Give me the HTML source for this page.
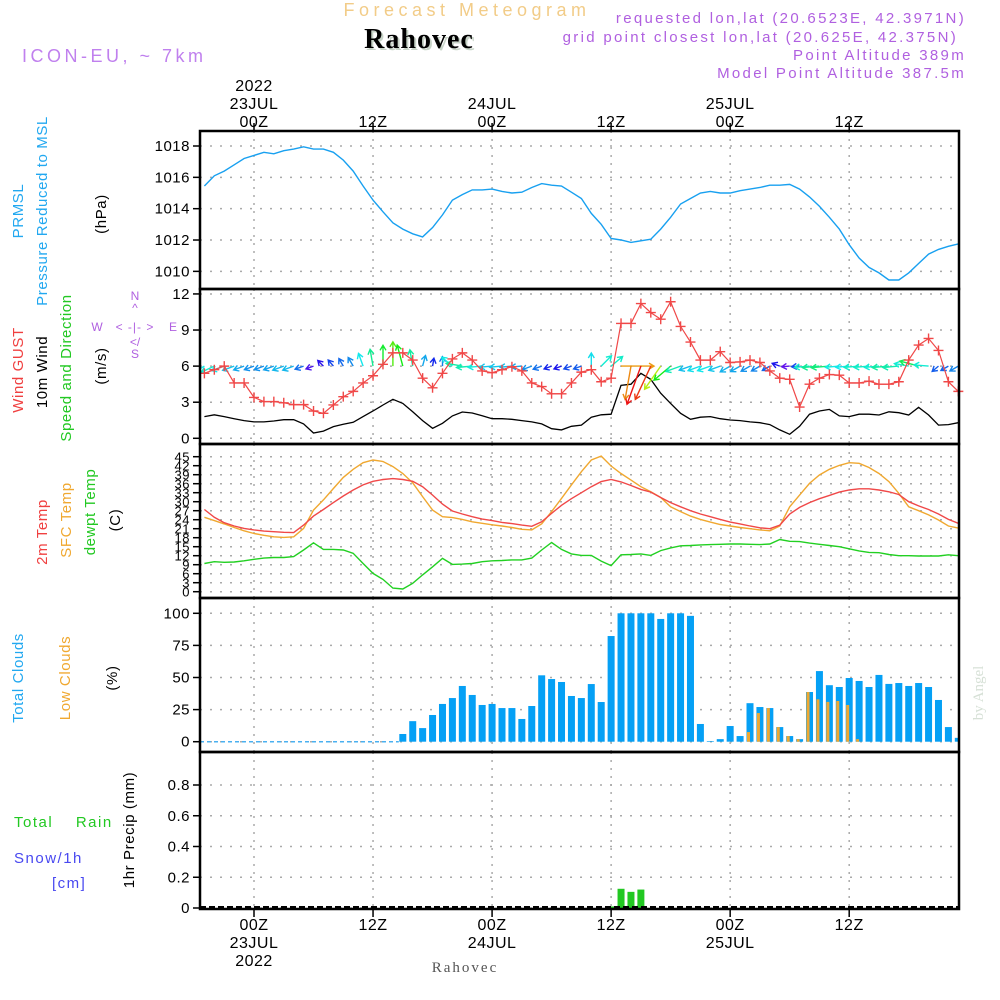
<!DOCTYPE html>
<html><head><meta charset="utf-8"><title>Rahovec meteogram</title>
<style>
html,body{margin:0;padding:0;background:#fff;}
svg{display:block;font-family:"Liberation Sans",sans-serif;}
</style></head>
<body>
<svg id="chart" width="1000" height="1000" viewBox="0 0 1000 1000" xmlns="http://www.w3.org/2000/svg">
<rect x="0" y="0" width="1000" height="1000" fill="#fff"/>
<text x="467" y="16" text-anchor="middle" font-size="18" fill="#f2cc88" letter-spacing="4.5">Forecast Meteogram</text>
<text x="421" y="50" text-anchor="middle" font-size="28" font-weight="bold" font-family="Liberation Serif,serif" fill="#c8d4c8" letter-spacing="1">Rahovec</text>
<text x="419" y="48" text-anchor="middle" font-size="28" font-weight="bold" font-family="Liberation Serif,serif" fill="#000" letter-spacing="1">Rahovec</text>
<g font-size="15" fill="#b060e0" text-anchor="end" letter-spacing="2.3">
<text x="966" y="23">requested lon,lat (20.6523E, 42.3971N)</text>
<text x="958" y="42">grid point closest lon,lat (20.625E, 42.375N)</text>
<text x="966" y="60">Point Altitude 389m</text>
<text x="966" y="78">Model Point Altitude 387.5m</text>
</g>
<text x="22" y="62" font-size="18" fill="#c080ee" letter-spacing="3.5">ICON-EU, ~ 7km</text>

<g font-size="15" letter-spacing="0.6">
<text transform="translate(23,211) rotate(-90)" text-anchor="middle" fill="#22a8f0">PRMSL</text>
<text transform="translate(47,211) rotate(-90)" text-anchor="middle" fill="#22a8f0">Pressure Reduced to MSL</text>
<text transform="translate(106,214) rotate(-90)" text-anchor="middle" fill="#000">(hPa)</text>
<text transform="translate(23,370) rotate(-90)" text-anchor="middle" fill="#f04040">Wind GUST</text>
<text transform="translate(47,372) rotate(-90)" text-anchor="middle" fill="#000">10m Wind</text>
<text transform="translate(71,368) rotate(-90)" text-anchor="middle" fill="#22c822">Speed and Direction</text>
<text transform="translate(106,366) rotate(-90)" text-anchor="middle" fill="#000">(m/s)</text>
<text transform="translate(47,532) rotate(-90)" text-anchor="middle" fill="#f04040">2m Temp</text>
<text transform="translate(71,520) rotate(-90)" text-anchor="middle" fill="#f0a830">SFC Temp</text>
<text transform="translate(95,512) rotate(-90)" text-anchor="middle" fill="#22c822">dewpt Temp</text>
<text transform="translate(120,520) rotate(-90)" text-anchor="middle" fill="#000">(C)</text>
<text transform="translate(23,678) rotate(-90)" text-anchor="middle" fill="#22a8f0">Total Clouds</text>
<text transform="translate(70,678) rotate(-90)" text-anchor="middle" fill="#f0a830">Low Clouds</text>
<text transform="translate(117,678) rotate(-90)" text-anchor="middle" fill="#000">(%)</text>
<text x="14" y="827" fill="#22c822" style="white-space:pre" letter-spacing="1.5">Total    Rain</text>
<text x="14" y="863" fill="#4848f0" letter-spacing="1.5">Snow/1h</text>
<text x="52" y="888" fill="#4848f0" letter-spacing="1.5">[cm]</text>
<text transform="translate(134,830) rotate(-90)" text-anchor="middle" fill="#000">1hr Precip (mm)</text>
</g>
<g font-size="12" fill="#b060e0">
<text x="135" y="300" text-anchor="middle">N</text>
<text x="135" y="312" text-anchor="middle">^</text>
<text x="97" y="331" text-anchor="middle">W</text>
<text x="135" y="331" text-anchor="middle" style="white-space:pre" letter-spacing="1">&lt; -|- &gt;</text>
<text x="173" y="331" text-anchor="middle">E</text>
<text x="135" y="346" text-anchor="middle">&lt;/</text>
<text x="135" y="358" text-anchor="middle">S</text>
</g>
<text transform="translate(983,693) rotate(-90)" text-anchor="middle" font-size="15" font-family="Liberation Serif,serif" fill="#d6e0d6">by Angel</text>
<text x="465" y="972" text-anchor="middle" font-size="15" font-family="Liberation Serif,serif" fill="#555" letter-spacing="2">Rahovec</text>
<g id="plot"></g>
</svg>
<script>
// hours relative to 00Z 23JUL
const hours = [];
for (let h = -5; h <= 71; h++) hours.push(h);
const pressure = [1015.45,1016.1,1016.4,1016.8,1017.2,1017.4,1017.6,1017.5,1017.7,1017.8,1017.95,1017.8,1017.8,1017.6,1017.1,1016.4,1015.45,1014.55,1013.8,1013.1,1012.7,1012.4,1012.2,1012.8,1013.6,1014.55,1014.9,1015.2,1015.2,1015.25,1015.1,1015.0,1015.05,1015.35,1015.6,1015.5,1015.45,1015.05,1014.65,1013.7,
1013.0,1012.1,1012.0,1011.85,1011.95,1012.05,1012.7,1013.45,1014.3,1014.65,1015.0,1015.1,1015.0,1015.0,1015.15,1015.25,1015.35,1015.5,1015.5,1015.55,1015.25,1014.75,1014.15,1013.45,1012.7,1011.7,1010.85,1010.25,1009.9,1009.45,1009.45,1009.9,1010.5,1011.1,1011.4,1011.6,1011.75];
const gust = [5.4,5.7,6.0,4.6,4.6,3.4,3.05,3.05,2.95,2.8,2.8,2.27,2.08,2.77,3.46,3.9,4.6,5.2,6.15,7.1,7.1,6.5,5.0,4.2,5.4,6.6,7.1,6.5,5.6,5.45,5.7,5.95,5.6,4.6,4.3,3.7,3.7,4.6,5.5,5.7,
4.7,5.0,9.55,9.55,11.2,10.45,9.9,11.35,9.3,8.0,6.5,6.5,7.2,6.3,6.35,6.5,6.3,5.6,5.0,4.9,2.6,4.5,5.0,5.3,5.25,4.6,4.6,4.75,4.5,4.5,4.7,6.5,7.75,8.3,7.3,4.7,3.9];
const windSpeed = [1.8,1.95,1.8,1.63,1.47,1.36,1.36,1.44,1.55,1.55,1.2,0.44,0.6,0.97,1.16,1.33,1.8,2.27,2.77,3.24,2.9,2.2,1.47,0.83,1.25,1.86,2.19,2.1,1.88,1.63,1.63,1.58,1.47,1.36,1.2,0.8,0.7,1.0,1.1,1.75,
1.95,2.0,4.4,4.5,5.4,4.9,3.75,2.9,2.08,1.58,1.75,1.8,1.63,1.52,1.47,1.36,1.3,1.14,0.7,0.33,1.0,2.0,2.27,2.4,1.86,1.8,2.0,2.0,1.94,2.2,2.13,1.94,2.58,1.94,1.1,1.14,1.3];
const windDir = [60,65,70,70,70,70,70,70,70,70,70,70,
135,140,150,150,160,170,180,180,165,170,195,190,180,130,100,
85,85,85,85,85,85,70,70,70,70,70,70,180,
225,230,270,10,20,25,35,50,70,70,70,70,70,60,60,60,60,60,110,
85,85,85,85,85,85,85,85,85,85,85,85,100,105,95,50,60,60];
const temp2m = [27.4,24.8,23,21.9,21.1,20.6,20.2,20,19.8,19.7,22.2,25.2,27.4,29.7,31.9,33.9,35.6,36.8,37.4,37.7,37.4,36.8,35,32.2,29.2,26.9,25.9,25,24.2,23.7,23.1,22.7,22.2,21.8,23.3,26.1,28.8,31,33,35,36.7,37.4,36.6,35.4,34.1,33.2,31.4,29.7,28.3,27,25.9,25,24.1,23.2,22.6,21.9,21.3,21,22.2,25.9,28.1,29.7,31,32.1,33.2,33.9,34.3,34.3,33.9,33.3,32.4,30,28.6,27.4,25.9,24.1,22.8];
const tempSfc = [24.8,23.7,22.6,21.4,20.3,19.4,18.8,18.3,18.1,18.3,21.1,27.2,30.6,34.4,38.1,40.8,43,43.9,43.4,41.7,39.4,36.3,31.7,27.2,25,24.7,24.1,23.3,22.8,22.3,21.9,21.4,20.8,20.6,22.6,26.7,31.1,35.6,40,43.9,45.2,41.9,39.4,37.2,35,33.3,31.4,28.3,26.7,25.2,24.1,23.2,22.4,21.9,21.4,21,20.6,20.3,21.9,28.3,32.2,36.1,38.9,40.8,42.1,43,42.8,41.4,39.4,36.7,32.8,28.3,27,25.6,23.9,21.9,21.2];
const dewpt = [9.4,10,9.8,9.9,10.3,10.8,11.2,11.4,11.4,11.7,13.9,16.3,14.1,14.1,13.9,12.8,9.4,6.1,4.1,1.2,0.9,2.8,5.6,8.3,11.1,9.1,9.2,9.4,10,10.3,10.4,10.6,10.6,11.2,13.9,16.4,14.1,12.6,12.1,12.1,10.2,8.7,12.3,12.4,12.6,12.1,13.7,14.6,15.3,15.4,15.6,15.7,15.8,15.9,15.9,15.8,15.7,15.9,17.4,16.8,16.7,16.2,15.8,15.4,15,14.3,13.6,13.1,13,12.4,12,12,11.9,11.9,11.9,12.3,12];
const totalClouds = [0,0,0,0,0,0,0,0,0,0,0,0,0,0,0,0,0,0,0,0,
6,16,10.6,20.8,29.4,34,43.4,36.4,28.6,29.4,26.2,26.2,17.7,27.8,51.7,48.8,46.5,35.6,34,44.9,30.9,82.3,100,100,100,100,95.6,100,100,98,13.8,0.5,2,12.2,4.4,30,27,26.2,11.4,4.4,2,38.7,55,44,42.6,49.6,47.3,42.6,52,45,45.7,43.4,45.7,42.6,32.5,11.4,3];
const lowClouds = [0,0,0,0,0,0,0,0,0,0,0,0,0,0,0,0,0,0,0,0,0,0,0,0,0,0,0,0,0,0,0,0,0,0,0,0,0,0,0,0,0,0,0,0,0,0,0,0,0,0,0,0,0,0,0,
7.5,22.3,26.2,11.4,4.4,2,38.7,33,31,31.7,28.6,2,0,0,0,0,0,0,0,0,0,0];
const precip = [0,0,0,0,0,0,0,0,0,0,0,0,0,0,0,0,0,0,0,0,0,0,0,0,0,0,0,0,0,0,0,0,0,0,0,0,0,0,0,0,0,
0.01,0.125,0.105,0.12,0,0,0,0,0,0,0,0,0,0,0,0,0,0,0,0,0,0,0,0,0,0,0,0,0,0,0,0,0,0,0,0,0];
const pressureTicks = [1010,1012,1014,1016,1018];
const windTicks = [0,3,6,9,12];
const tempTicks = [0,3,6,9,12,15,18,21,24,27,30,33,36,39,42,45];
const cloudTicks = [0,25,50,75,100];
const precipTicks = [0,0.2,0.4,0.6,0.8];
const timeTicks = [0,12,24,36,48,60];
const timeLabels = ["00Z","12Z","00Z","12Z","00Z","12Z"];
const dateLabels = ["23JUL","","24JUL","","25JUL",""];

const NS = "http://www.w3.org/2000/svg";
const plot = document.getElementById("plot");
const L = 200, R = 959;
const X = t => 254 + 9.92 * t;
const panels = {
  pres: {top:131, bot:289, y: v => 146 + (1018 - v) * 15.67},
  wind: {top:289, bot:444, y: v => 438.3 - v * 12.03},
  temp: {top:444, bot:598, y: v => 591.7 - v * 3.0},
  cloud:{top:598, bot:752, y: v => 741.7 - v * 1.284},
  prec: {top:752, bot:909, y: v => 908 - v * 153.75}
};
function el(tag, attrs, parent) {
  const e = document.createElementNS(NS, tag);
  for (const k in attrs) e.setAttribute(k, attrs[k]);
  (parent || plot).appendChild(e);
  return e;
}
const clip = el("clipPath", {id:"plotclip"});
el("rect", {x:L, y:131, width:R-L, height:778}, clip);

function gridAndAxis(p, ticks, name, fmt, fs) {
  const g = el("g", {});
  
  
  ticks.forEach(v => {
    const y = p.y(v);
    const gl = el("line", {x1:L, x2:R, y1:y, y2:y, stroke:"#aaa", "stroke-width":1.5, "stroke-dasharray":"2 8"}, g);
    
    
    const tk = el("line", {x1:L-7, x2:L, y1:y, y2:y, stroke:"#000", "stroke-width":1.5}, g);
    
    
    const tx = el("text", {x:L-10, y:y+5, "text-anchor":"end", "font-size":fs || 15, fill:"#000", "letter-spacing":0.5}, g);
    
    
    tx.textContent = fmt ? fmt(v) : String(v);
  });
  timeTicks.forEach(t => {
    const vl = el("line", {x1:X(t), x2:X(t), y1:p.top, y2:p.bot, stroke:"#aaa", "stroke-width":1.5, "stroke-dasharray":"2 6"}, g);
    
    
  });
}
gridAndAxis(panels.pres, pressureTicks, "pressure");
gridAndAxis(panels.wind, windTicks, "wind");
gridAndAxis(panels.temp, tempTicks, "temp", null, 13);
gridAndAxis(panels.cloud, cloudTicks, "cloud");
gridAndAxis(panels.prec, precipTicks, "precip", v => v === 0 ? "0" : v.toFixed(1));

function line(p, vals, color, name, w) {
  const pts = vals.map((v, i) => X(hours[i]).toFixed(1) + "," + p.y(v).toFixed(1)).join(" ");
  const pl = el("polyline", {points:pts, fill:"none", stroke:color, "stroke-width":w || 1.4, "clip-path":"url(#plotclip)"});
  
  
}
line(panels.pres, pressure, "#18a0f0", "pressure-line");

// clouds
const cg = el("g", {"clip-path":"url(#plotclip)"});


const zl = el("line", {x1:L, x2:X(15)-4, y1:panels.cloud.y(0), y2:panels.cloud.y(0), stroke:"#4ab0f0", "stroke-width":1.5, "stroke-dasharray":"4 3"}, cg);


totalClouds.forEach((v, i) => {
  if (v <= 0) return;
  const y = panels.cloud.y(v);
  const r = el("rect", {x:X(hours[i]) - 3.5, y:y, width:7, height:panels.cloud.y(0) - y, fill:"#05a0f5"}, cg);
  
  
});
lowClouds.forEach((v, i) => {
  if (v <= 0) return;
  const y = panels.cloud.y(v);
  const r = el("rect", {x:X(hours[i]) - 3, y:y, width:3, height:panels.cloud.y(0) - y, fill:"#f0a830"}, cg);
  
  
});
// precip
const pg = el("g", {});


precip.forEach((v, i) => {
  if (v <= 0) return;
  const y = panels.prec.y(v);
  const r = el("rect", {x:X(hours[i]) - 3.5, y:y, width:7, height:panels.prec.y(0) - y, fill:"#22c822"}, pg);
  
  
});
const pz = el("line", {x1:L, x2:R, y1:907, y2:907, stroke:"#000", "stroke-width":2, "stroke-dasharray":"6 3"});



// temps
line(panels.temp, tempSfc, "#f0a830", "sfc-temp-line");
line(panels.temp, temp2m, "#f04848", "t2m-line");
line(panels.temp, dewpt, "#22d022", "dewpt-line");

// wind
line(panels.wind, windSpeed, "#000", "wind-speed-line", 1.3);
const ag = el("g", {"clip-path":"url(#plotclip)"});


windDir.forEach((d, i) => {
  const s = windSpeed[i];
  const len = Math.max(8, s * 7.5);
  const to = (d + 180) * Math.PI / 180;
  const x0 = X(hours[i]), y0 = panels.wind.y(6);
  const dx = Math.sin(to) * len, dy = -Math.cos(to) * len;
  const x1 = x0 + dx, y1 = y0 + dy;
  const hue = Math.max(0, 280 - s * 55);
  const col = "hsl(" + hue + ",85%,50%)";
  const ux = dx / len, uy = dy / len;
  const h = 5;
  const p = [x1 - ux*h - uy*h*0.6, y1 - uy*h + ux*h*0.6, x1, y1, x1 - ux*h + uy*h*0.6, y1 - uy*h - ux*h*0.6];
  const a = el("path", {d:"M" + x0.toFixed(1) + " " + y0.toFixed(1) + "L" + x1.toFixed(1) + " " + y1.toFixed(1) + "M" + p[0].toFixed(1) + " " + p[1].toFixed(1) + "L" + p[2].toFixed(1) + " " + p[3].toFixed(1) + "L" + p[4].toFixed(1) + " " + p[5].toFixed(1), fill:"none", stroke:col, "stroke-width":1.4}, ag);
  
  
});
line(panels.wind, gust, "#f04848", "gust-line", 1.2);
const gm = el("g", {});


gust.forEach((v, i) => {
  const x = X(hours[i]), y = panels.wind.y(v);
  const m = el("path", {d:"M" + (x-5) + " " + y + "h10M" + x + " " + (y-5) + "v10", stroke:"#f04848", "stroke-width":1.4}, gm);
  
  
});

// panel borders
Object.keys(panels).forEach(k => {
  const p = panels[k];
  const b = el("rect", {x:L, y:p.top, width:R-L, height:p.bot-p.top, fill:"none", stroke:"#000", "stroke-width":2.5});
  
  
});
// time axis labels
timeTicks.forEach((t, i) => {
  const x = X(t);
  const tt = el("line", {x1:x, x2:x, y1:123, y2:131, stroke:"#000", "stroke-width":1.5});
  
  
  const bt = el("line", {x1:x, x2:x, y1:909, y2:917, stroke:"#000", "stroke-width":1.5});
  
  
  const a = el("text", {x:x, y:127, "text-anchor":"middle", "font-size":16, fill:"#000", "letter-spacing":0.5});
  
  
  a.textContent = timeLabels[i];
  const b = el("text", {x:x, y:930, "text-anchor":"middle", "font-size":16, fill:"#000", "letter-spacing":0.5});
  
  
  b.textContent = timeLabels[i];
  if (dateLabels[i]) {
    const c = el("text", {x:x, y:109, "text-anchor":"middle", "font-size":16, fill:"#000", "letter-spacing":0.5});
    
    
    c.textContent = dateLabels[i];
    const d = el("text", {x:x, y:948, "text-anchor":"middle", "font-size":16, fill:"#000", "letter-spacing":0.5});
    
    
    d.textContent = dateLabels[i];
  }
  if (i === 0) {
    const e = el("text", {x:x, y:91, "text-anchor":"middle", "font-size":16, fill:"#000", "letter-spacing":0.5});
    
    
    e.textContent = "2022";
    const f = el("text", {x:x, y:966, "text-anchor":"middle", "font-size":16, fill:"#000", "letter-spacing":0.5});
    
    
    f.textContent = "2022";
  }
});
</script>
</body></html>
